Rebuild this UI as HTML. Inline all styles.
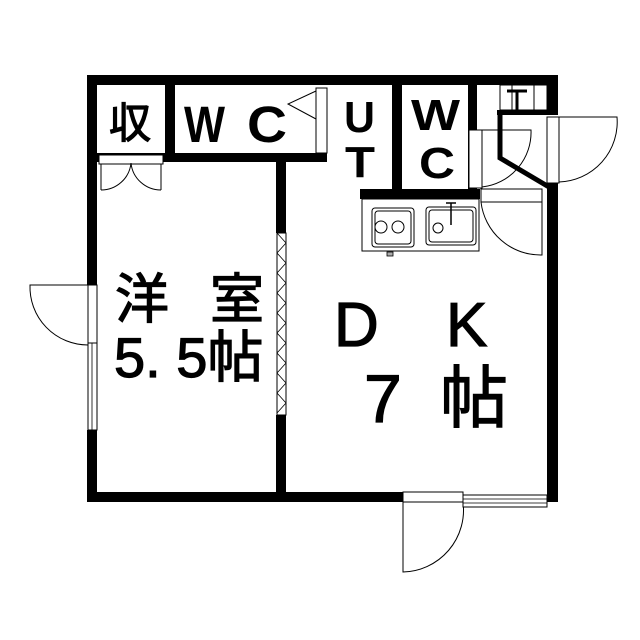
<!DOCTYPE html>
<html><head><meta charset="utf-8"><style>
html,body{margin:0;padding:0;background:#fff}
svg{display:block}
text{font-family:"Liberation Sans","Noto Sans CJK JP",sans-serif;fill:#000}
.s{stroke:#000;stroke-width:1.2}
</style></head><body>
<svg width="640" height="640" viewBox="0 0 640 640" xmlns="http://www.w3.org/2000/svg">
<g fill="#000">
<rect x="87" y="75" width="470" height="10"/>
<rect x="87" y="75" width="10" height="210"/>
<rect x="87" y="430" width="10" height="72"/>
<rect x="87" y="492" width="316" height="10"/>
<rect x="547" y="75" width="11" height="40"/>
<rect x="547" y="183" width="11" height="319"/>
<rect x="165" y="85" width="10" height="75"/>
<rect x="97" y="153" width="230" height="9"/>
<rect x="276" y="160" width="10" height="73"/>
<rect x="276" y="415" width="10" height="80"/>
<rect x="392" y="85" width="10" height="108"/>
<rect x="468" y="85" width="9" height="105"/>
<rect x="360" y="189" width="120" height="10"/>
<rect x="497" y="110" width="50" height="5"/>
</g>
<g fill="none" stroke="#000">
<polyline points="500,112 500,158 549,187" stroke-width="5"/>
<rect x="99" y="155" width="64" height="9" fill="#fff" stroke-width="1"/>
<path d="M101,164 L101,190 M161,164 L161,190 M101,190 A30,30 0 0 0 131,163 M161,190 A30,30 0 0 1 131,163" stroke-width="1"/>
<rect x="316" y="88" width="11" height="65" fill="#fff" stroke-width="1"/>
<path d="M316,91 L288,104 L316,119" stroke-width="1"/>
<rect x="277" y="233" width="9" height="182" fill="#fff" stroke-width="1"/>
<path d="M277,233 L286,243 L277,253 L286,263 L277,273 L286,283 L277,293 L286,303 L277,313 L286,323 L277,333 L286,343 L277,353 L286,363 L277,373 L286,383 L277,393 L286,403 L277,413" stroke-width="0.8"/>
<rect x="88" y="285" width="9" height="58" fill="#fff" stroke-width="1"/>
<rect x="88" y="343" width="9" height="87" fill="#fff" stroke-width="1"/>
<path d="M92,343 L92,430" stroke-width="0.8"/>
<path d="M88,285 L30,285 A58,58 0 0 0 88,345" stroke-width="1"/>
<rect x="403" y="492" width="60" height="10" fill="#fff" stroke-width="1"/>
<path d="M403,502 L403,572 A62,62 0 0 0 463,502" stroke-width="1"/>
<rect x="463" y="495" width="84" height="12" fill="#fff" stroke-width="1"/>
<path d="M463,499 L547,499 M463,503 L547,503" stroke-width="0.8"/>
<rect x="500" y="85" width="47" height="25" stroke-width="1"/>
<path d="M512,85 L512,110 M534,85 L534,110" stroke-width="1"/>
<path d="M507,91 L527,91 M517,91 L517,110" stroke-width="3"/>
<rect x="469" y="130" width="13" height="58" fill="#fff" stroke-width="1"/>
<path d="M482,130 L531,130 A55,55 0 0 1 482,187" stroke-width="1"/>
<rect x="547" y="117" width="12" height="66" fill="#fff" stroke-width="1"/>
<path d="M559,117 L617,117 A60,60 0 0 1 559,182" stroke-width="1"/>
<rect x="481" y="189" width="61" height="13" fill="#fff" stroke-width="1"/>
<path d="M481,202 A60,60 0 0 0 542,255 L542,202" stroke-width="1"/>
<rect x="362" y="199" width="117" height="52" stroke-width="1"/>
<rect x="372" y="208" width="42" height="39" rx="3" stroke-width="1"/>
<rect x="375" y="211" width="36" height="33" rx="3" stroke-width="1"/>
<circle cx="381" cy="227" r="6" stroke-width="1"/>
<circle cx="398" cy="227" r="6" stroke-width="1"/>
<rect x="426" y="207" width="50" height="38" rx="3" stroke-width="1"/>
<rect x="429" y="210" width="44" height="32" rx="3" stroke-width="1"/>
<circle cx="438" cy="228" r="5" stroke-width="1"/>
<path d="M451,203 L451,225 M446,203 L456,203" stroke-width="1.5"/>
<rect x="387" y="252" width="6" height="4" fill="#aaa" stroke-width="0.8"/>
</g>
<text x="109" y="138" font-size="42" class="s">収</text>
<text x="184" y="142" font-size="51" font-weight="bold" textLength="41" lengthAdjust="spacingAndGlyphs">W</text>
<text x="247" y="142" font-size="51" font-weight="bold" textLength="40" lengthAdjust="spacingAndGlyphs">C</text>
<text x="344" y="132" font-size="44" font-weight="bold" textLength="31" lengthAdjust="spacingAndGlyphs">U</text>
<text x="345" y="177" font-size="44" font-weight="bold" textLength="30" lengthAdjust="spacingAndGlyphs">T</text>
<text x="411" y="130" font-size="44" font-weight="bold" textLength="49" lengthAdjust="spacingAndGlyphs">W</text>
<text x="419" y="178" font-size="44" font-weight="bold" textLength="36" lengthAdjust="spacingAndGlyphs">C</text>
<text x="115" y="318" font-size="54" class="s">洋</text>
<text x="210" y="318" font-size="54" class="s">室</text>
<text x="114" y="377" font-size="56" class="s">5. 5帖</text>
<text x="334" y="346" font-size="62" class="s">D</text>
<text x="446" y="346" font-size="62" class="s">K</text>
<text x="364" y="422" font-size="68" class="s">7</text>
<text x="440" y="422" font-size="68" class="s">帖</text>
</svg>
</body></html>
